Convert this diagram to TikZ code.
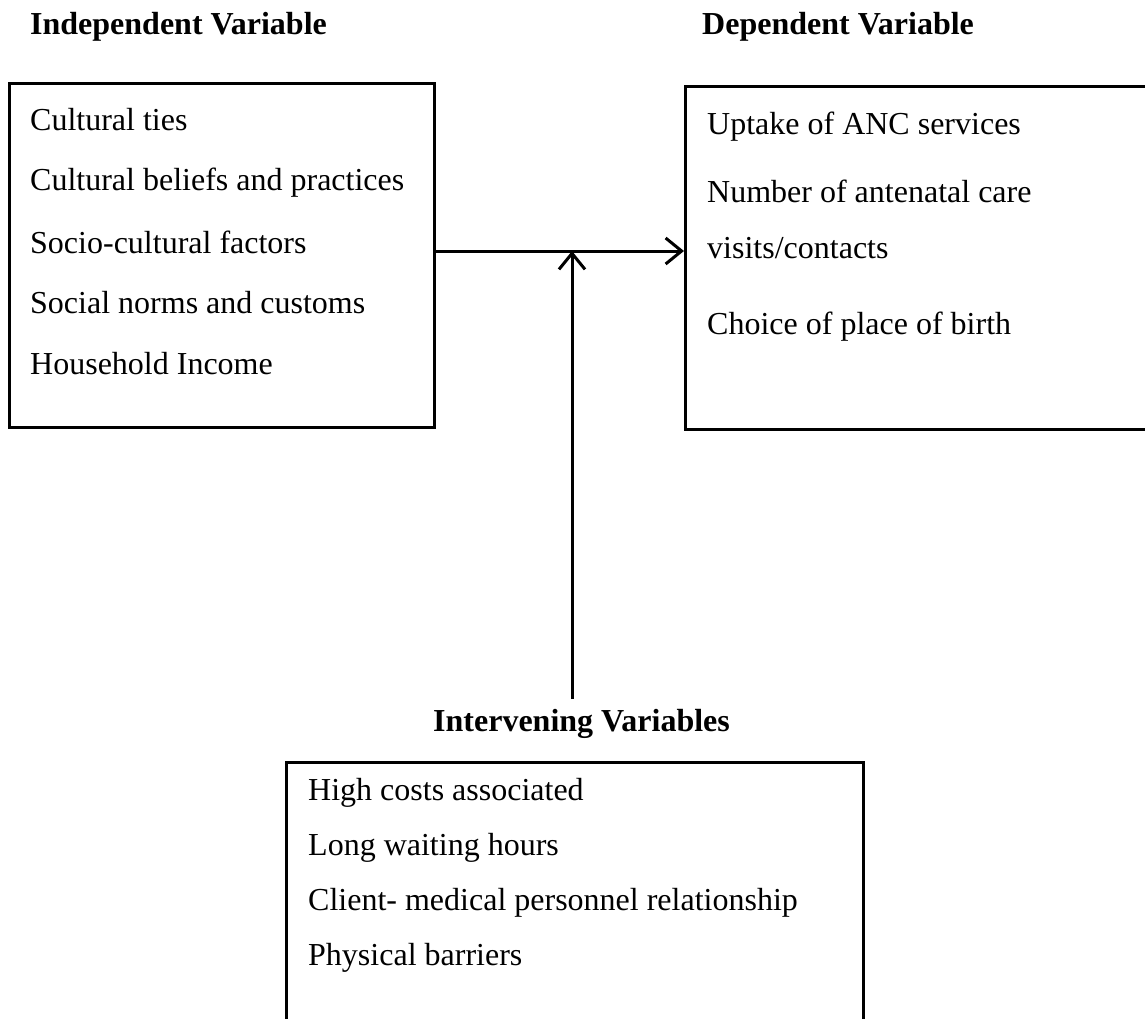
\documentclass[tikz,border=0pt]{standalone}
\usepackage{fontspec}
\setmainfont{Liberation Serif}
\usetikzlibrary{arrows.meta}
\tikzset{
  box/.style={draw=black, line width=3pt, rectangle, inner sep=0pt, anchor=north west},
  item/.style={anchor=base west, inner sep=0pt, font=\fontsize{32}{38}\selectfont},
  head/.style={anchor=base west, inner sep=0pt, font=\fontsize{32}{38}\selectfont\bfseries},
  conn/.style={line width=3pt, -{Straight Barb[length=16pt,width=26pt,line width=3pt]}},
}
\begin{document}
\begin{tikzpicture}[x=1pt,y=-1pt]
\useasboundingbox (0,0) rectangle (1145,1019);
% headings
\node[head] (hind) at (30,35) {Independent Variable};
\node[head] (hdep) at (702,35) {Dependent Variable};
\node[head] (hint) at (433,731) {Intervening Variables};
% boxes
\node[box, minimum width=425pt, minimum height=344pt] (ind) at (8,82) {};
\node[box, minimum width=480pt, minimum height=343pt] (dep) at (684,85) {};
\node[box, minimum width=577pt, minimum height=300pt] (int) at (285,761) {};
% independent items
\node[item] (i1) at (30,131) {Cultural ties};
\node[item] (i2) at (30,191) {Cultural beliefs and practices};
\node[item] (i3) at (30,253) {Socio-cultural factors};
\node[item] (i4) at (30,313) {Social norms and customs};
\node[item] (i5) at (30,374) {Household Income};
% dependent items
\node[item] (d1) at (707,135) {Uptake of ANC services};
\node[item] (d2) at (707,202) {Number of antenatal care};
\node[item] (d3) at (707,258) {visits/contacts};
\node[item] (d4) at (707,334) {Choice of place of birth};
% intervening items
\node[item] (v1) at (308,800) {High costs associated};
\node[item] (v2) at (308,855) {Long waiting hours};
\node[item] (v3) at (308,910) {Client- medical personnel relationship};
\node[item] (v4) at (308,965) {Physical barriers};
% connectors
\coordinate (j) at (572,251);
\coordinate (vb) at (572,699);
\draw[conn] (ind.east |- j) -- (dep.west |- j);
\draw[conn] (vb) -- (j);
\end{tikzpicture}
\end{document}
